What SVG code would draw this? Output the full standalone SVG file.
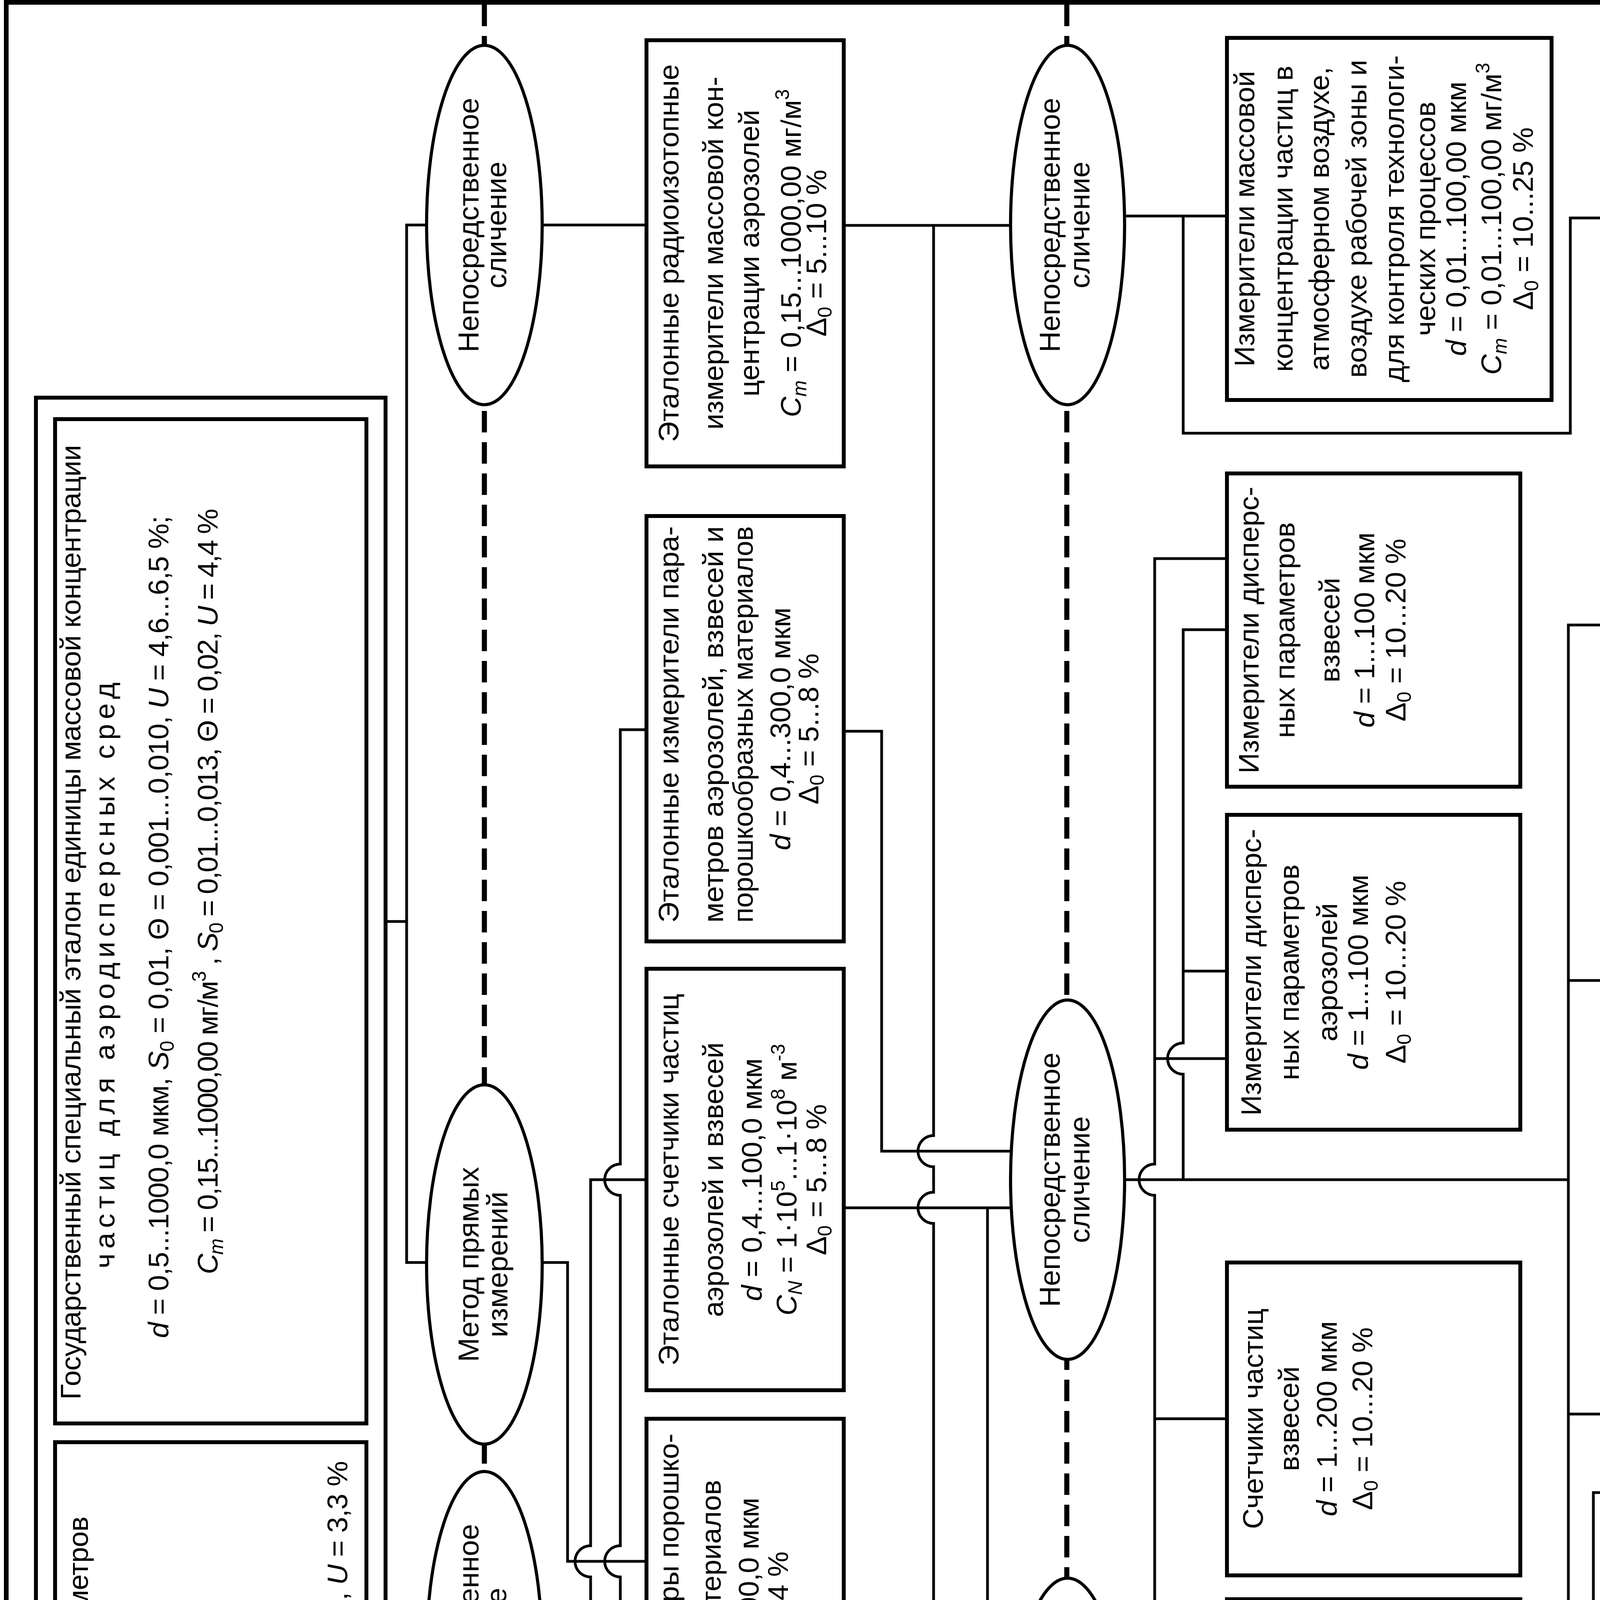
<svg xmlns="http://www.w3.org/2000/svg" width="4973" height="7402" viewBox="0 0 4973 7402">
<style>
text{font-family:"Liberation Sans",Arial,Helvetica,sans-serif;fill:#000}
.t{font-size:73px;text-anchor:middle}
.s{text-anchor:start}
.e{font-size:74px;text-anchor:middle}
.i{font-style:italic}
.b{font-size:50px}
.lab{font-size:80px;text-anchor:middle}
.box{fill:#fff;stroke:#000;stroke-width:10}
.ell{fill:#fff;stroke:#000;stroke-width:8}
.ln{fill:none;stroke:#000;stroke-width:7}
.dash{fill:none;stroke:#000;stroke-width:13;stroke-dasharray:55 25}
.frame{fill:none;stroke:#000;stroke-width:12}
</style>
<rect width="4973" height="7402" fill="#fff"/>
<g id="frame">
<rect class="frame" x="16" y="6" width="4948" height="7386"/>
<line class="frame" x1="16" y1="7059" x2="4964" y2="7059"/>
<line class="dash" x1="1240" y1="12" x2="1240" y2="7386"/>
<line class="dash" x1="2731" y1="12" x2="2731" y2="7386"/>
</g>
<g id="labels">
<text class="lab" transform="translate(630 7245) rotate(180)">Государственные</text>
<text class="lab" transform="translate(634 7150) rotate(180)">эталоны</text>
<text class="lab" transform="translate(1985 7200) rotate(180)">Рабочие эталоны</text>
<text class="lab" transform="translate(3862 7205) rotate(180)">Рабочие средства измерений</text>
</g>
<g id="connectors" class="ln">
<path d="M938 2359H1041M1240 576H1041V3232H1240"/>
<path d="M938 4979H1041M1240 4227H1041V6518H1240"/>
<path d="M1240 576H1655"/>
<path d="M1240 3232H1453V3997H1655"/>
<path d="M1240 4227H1512V4037A40 40 0 0 1 1512 3957V3020H1655"/>
<path d="M1655 1868H1588V2980A40 40 0 0 0 1588 3060V3957A40 40 0 0 0 1588 4037V6518"/>
<path d="M1588 4227H1655M1588 5312H1655"/>
<path d="M1240 6518H1655"/>
<path d="M2160 577H2731"/>
<path d="M2390 577V2907A40 40 0 0 0 2390 2987V3052A40 40 0 0 0 2390 3132V4500"/>
<path d="M2160 1872H2257V2947H2731"/>
<path d="M2160 3092H2731"/>
<path d="M2528 3092V4460A40 40 0 0 0 2528 4540V4666A40 40 0 0 0 2528 4746V6344H2731M2528 4294H2731"/>
<path d="M2160 4230H2262V4500H2731"/>
<path d="M2731 4706H2262V6217H2160M2160 5312H2262"/>
<path d="M2160 6518H2731"/>
<path d="M2731 553H3141M3029 553V1109H4020V558H4148"/>
<path d="M3141 1430H2956V2980A40 40 0 0 0 2956 3060V6318H3141M2956 2710H3141M2956 3632H3141M2956 5070H4148M2956 5639H3141"/>
<path d="M3141 1612H3029V2670A40 40 0 0 0 3029 2750V3020M3029 2486H3141"/>
<path d="M2731 3020H4015"/>
<path d="M4148 1600H4015V4803H4148M4015 2510H4148M4015 3620H4148"/>
<path d="M4148 3821H4079V4763A40 40 0 0 0 4079 4843V5704H4148"/>
<path d="M2731 4500H3141"/>
<path d="M2731 6518H3141"/>
</g>
<g id="state-standards">
<rect class="box" x="92" y="1018" width="895" height="5312"/>
<g id="G1">
<rect class="box" x="141" y="1073" width="797" height="2571"/>
<text class="t" transform="translate(206 2361) rotate(-90)" textLength="2444" lengthAdjust="spacing">Государственный специальный эталон единицы массовой концентрации</text>
<text class="t" transform="translate(293 2497) rotate(-90)" textLength="1500" lengthAdjust="spacing">частиц для аэродисперсных сред</text>
<text class="t" transform="translate(431 2373) rotate(-90)" textLength="2105" lengthAdjust="spacing"><tspan class="i">d</tspan> = 0,5...1000,0 мкм, <tspan class="i">S</tspan><tspan class="b" dy="14">0</tspan><tspan dy="-14"> = 0,01, Θ = 0,001...0,010, </tspan><tspan class="i">U</tspan> = 4,6...6,5 %;</text>
<text class="t" transform="translate(557 2282) rotate(-90)" textLength="1960" lengthAdjust="spacing"><tspan class="i">C</tspan><tspan class="b i" dy="14">m</tspan><tspan dy="-14"> = 0,15...1000,00 мг/м</tspan><tspan class="b" dy="-30">3</tspan><tspan dy="30"> , </tspan><tspan class="i">S</tspan><tspan class="b" dy="14">0</tspan><tspan dy="-14"> = 0,01...0,013, Θ = 0,02, </tspan><tspan class="i">U</tspan> = 4,4 %</text>
</g>
<g id="G2">
<rect class="box" x="141" y="3692" width="797" height="2584"/>
<text class="t s" transform="translate(225 6194) rotate(-90)" textLength="2312" lengthAdjust="spacing">Государственный первичный эталон единиц дисперсных параметров</text>
<text class="t" transform="translate(312 5038) rotate(-90)" textLength="1755" lengthAdjust="spacing">аэрозолей, взвесей и порошкообразных материалов</text>
<text class="t s" transform="translate(431 6235) rotate(-90)" textLength="1935" lengthAdjust="spacing"><tspan class="i">d</tspan> = 0,5...1000,0 мкм, <tspan class="i">S</tspan><tspan class="b" dy="14">0</tspan><tspan dy="-14"> = 0,010...0,001, Θ = 0,01, </tspan><tspan class="i">U</tspan> = 3,3 %;</text>
<text class="t s" transform="translate(531 6247) rotate(-90)" textLength="1826" lengthAdjust="spacing"><tspan class="i">C</tspan><tspan class="b i" dy="14">N</tspan><tspan dy="-14"> = 1·10</tspan><tspan class="b" dy="-30">5</tspan><tspan dy="30"> ...1·10</tspan><tspan class="b" dy="-30">12</tspan><tspan dy="30"> м</tspan><tspan class="b" dy="-30">-3</tspan><tspan dy="30"> , </tspan><tspan class="i">S</tspan><tspan class="b" dy="14">0</tspan><tspan dy="-14"> = 0,005, Θ = 0,016, </tspan><tspan class="i">U</tspan> = 6 %;</text>
<text class="t s" transform="translate(665 6240) rotate(-90)" textLength="1807" lengthAdjust="spacing"><tspan class="i">C</tspan><tspan class="b i" dy="14">W</tspan><tspan dy="-14"> = 0,5...5000,0 мм</tspan><tspan class="b" dy="-30">3</tspan><tspan dy="30">/м</tspan><tspan class="b" dy="-30">3</tspan><tspan dy="30"> , </tspan><tspan class="i">S</tspan><tspan class="b" dy="14">0</tspan><tspan dy="-14"> = 0,005, Θ = 0,012, </tspan><tspan class="i">U</tspan> = 3 %;</text>
<text class="t s" transform="translate(790 6240) rotate(-90)" textLength="1692" lengthAdjust="spacing"><tspan class="i">C</tspan><tspan class="b i" dy="14">m</tspan><tspan dy="-14"> = 0,5...10000,0 мг/м</tspan><tspan class="b" dy="-30">3</tspan><tspan dy="30"> , </tspan><tspan class="i">S</tspan><tspan class="b" dy="14">0</tspan><tspan dy="-14"> = 0,013, Θ = 0,016, </tspan><tspan class="i">U</tspan> = 3,5 %;</text>
<text class="t s" transform="translate(889 6240) rotate(-90)" textLength="2500" lengthAdjust="spacing"><tspan class="i">f</tspan><tspan class="b" dy="14">р.ч</tspan><tspan dy="-14"> в диапазоне от 0,5 до 1000,0 мкм, </tspan><tspan class="i">S</tspan><tspan class="b" dy="14">0</tspan><tspan dy="-14"> = 0,005...0,012, Θ = 0,01, </tspan><tspan class="i">U</tspan> = 3,3 %</text>
</g>
</g>
<g id="E1"><ellipse class="ell" cx="1240" cy="576" rx="148" ry="460"/>
<text class="e" transform="translate(1225 576) rotate(-90)">Непосредственное</text>
<text class="e" transform="translate(1296 576) rotate(-90)">сличение</text></g>
<g id="E2"><ellipse class="ell" cx="1240" cy="3237" rx="148" ry="460"/>
<text class="e" transform="translate(1225 3237) rotate(-90)">Метод прямых</text>
<text class="e" transform="translate(1299 3237) rotate(-90)">измерений</text></g>
<g id="E3"><ellipse class="ell" cx="1240" cy="4227" rx="148" ry="460"/>
<text class="e" transform="translate(1225 4227) rotate(-90)">Непосредственное</text>
<text class="e" transform="translate(1296 4227) rotate(-90)">сличение</text></g>
<g id="E4"><ellipse class="ell" cx="1240" cy="6512" rx="148" ry="460"/>
<text class="e" transform="translate(1225 6512) rotate(-90)">Метод прямых</text>
<text class="e" transform="translate(1299 6512) rotate(-90)">измерений</text></g>
<g id="E5"><ellipse class="ell" cx="2733" cy="576" rx="146" ry="460"/>
<text class="e" transform="translate(2713 576) rotate(-90)">Непосредственное</text>
<text class="e" transform="translate(2789 576) rotate(-90)">сличение</text></g>
<g id="E6"><ellipse class="ell" cx="2733" cy="3020" rx="146" ry="460"/>
<text class="e" transform="translate(2713 3020) rotate(-90)">Непосредственное</text>
<text class="e" transform="translate(2789 3020) rotate(-90)">сличение</text></g>
<g id="E7"><ellipse class="ell" cx="2733" cy="4500" rx="146" ry="460"/>
<text class="e" transform="translate(2713 4500) rotate(-90)">Метод прямых</text>
<text class="e" transform="translate(2794 4500) rotate(-90)">измерений</text></g>
<g id="E8"><ellipse class="ell" cx="2733" cy="6512" rx="146" ry="460"/>
<text class="e" transform="translate(2707 6512) rotate(-90)">Сличение с помощью</text>
<text class="e" transform="translate(2789 6512) rotate(-90)">компаратора</text></g>
<g id="M1"><rect class="box" x="1655" y="103" width="505" height="1091"/>
<text class="t" transform="translate(1737 648) rotate(-90)">Эталонные радиоизотопные</text>
<text class="t" transform="translate(1851 648) rotate(-90)">измерители массовой кон-</text>
<text class="t" transform="translate(1943 648) rotate(-90)">центрации аэрозолей</text>
<text class="t" transform="translate(2050 648) rotate(-90)"><tspan class="i">C</tspan><tspan class="b i" dy="14">m</tspan><tspan dy="-14"> = 0,15...1000,00 мг/м</tspan><tspan class="b" dy="-30">3</tspan></text>
<text class="t" transform="translate(2115 648) rotate(-90)">Δ<tspan class="b" dy="14">0</tspan><tspan dy="-14"> = 5...10 %</tspan></text></g>
<g id="M2"><rect class="box" x="1655" y="1321" width="505" height="1089"/>
<text class="t s" transform="translate(1737 2362) rotate(-90)" textLength="1015" lengthAdjust="spacingAndGlyphs">Эталонные измерители пара-</text>
<text class="t s" transform="translate(1851 2362) rotate(-90)" textLength="1015" lengthAdjust="spacingAndGlyphs">метров аэрозолей, взвесей и</text>
<text class="t s" transform="translate(1927 2362) rotate(-90)" textLength="1015" lengthAdjust="spacingAndGlyphs">порошкообразных материалов</text>
<text class="t" transform="translate(2023 1866) rotate(-90)"><tspan class="i">d</tspan> = 0,4...300,0 мкм</text>
<text class="t" transform="translate(2095 1866) rotate(-90)">Δ<tspan class="b" dy="14">0</tspan><tspan dy="-14"> = 5...8 %</tspan></text></g>
<g id="M3"><rect class="box" x="1655" y="2480" width="505" height="1079"/>
<text class="t" transform="translate(1737 3020) rotate(-90)">Эталонные счетчики частиц</text>
<text class="t" transform="translate(1851 3020) rotate(-90)">аэрозолей и взвесей</text>
<text class="t" transform="translate(1950 3020) rotate(-90)"><tspan class="i">d</tspan> = 0,4...100,0 мкм</text>
<text class="t" transform="translate(2039 3020) rotate(-90)"><tspan class="i">C</tspan><tspan class="b i" dy="14">N</tspan><tspan dy="-14"> = 1·10</tspan><tspan class="b" dy="-30">5</tspan><tspan dy="30">...1·10</tspan><tspan class="b" dy="-30">8</tspan><tspan dy="30"> м</tspan><tspan class="b" dy="-30">-3</tspan></text>
<text class="t" transform="translate(2115 3020) rotate(-90)">Δ<tspan class="b" dy="14">0</tspan><tspan dy="-14"> = 5...8 %</tspan></text></g>
<g id="M4"><rect class="box" x="1655" y="3632" width="505" height="1074"/>
<text class="t" transform="translate(1737 4169) rotate(-90)">Эталонные наборы порошко-</text>
<text class="t" transform="translate(1845 4165) rotate(-90)">образных материалов</text>
<text class="t" transform="translate(1942 4165) rotate(-90)"><tspan class="i">d</tspan> = 0,4...1000,0 мкм</text>
<text class="t" transform="translate(2017 4165) rotate(-90)">Δ<tspan class="b" dy="14">0</tspan><tspan dy="-14"> = 2...4 %</tspan></text></g>
<g id="M5"><rect class="box" x="1655" y="4773" width="505" height="1078"/>
<text class="t" transform="translate(1737 5308) rotate(-90)">Эталонные взвеси частиц</text>
<text class="t" transform="translate(1835 5308) rotate(-90)">в жидкости</text>
<text class="t" transform="translate(1918 5308) rotate(-90)"><tspan class="i">d</tspan> = 0,4...150,0 мкм</text>
<text class="t" transform="translate(2001 5308) rotate(-90)">Δ<tspan class="b" dy="14">0</tspan><tspan dy="-14"> = 5...8 %</tspan></text></g>
<g id="M6"><rect class="box" x="1655" y="5918" width="505" height="1067"/>
<text class="t" transform="translate(1737 6450) rotate(-90)">Эталонные генераторы</text>
<text class="t" transform="translate(1835 6450) rotate(-90)">частиц аэрозолей</text>
<text class="t" transform="translate(1934 6450) rotate(-90)"><tspan class="i">d</tspan> = 0,4...60,0 мкм</text>
<text class="t" transform="translate(2034 6450) rotate(-90)"><tspan class="i">C</tspan><tspan class="b i" dy="14">N</tspan><tspan dy="-14"> = 1·10</tspan><tspan class="b" dy="-30">5</tspan><tspan dy="30">...1·10</tspan><tspan class="b" dy="-30">7</tspan><tspan dy="30"> м</tspan><tspan class="b" dy="-30">-3</tspan></text>
<text class="t" transform="translate(2115 6450) rotate(-90)">Δ<tspan class="b" dy="14">0</tspan><tspan dy="-14"> = 5...8 %</tspan></text></g>
<g id="R1"><rect class="box" x="3141" y="97" width="831" height="927"/>
<text class="t" transform="translate(3211 560) rotate(-90)">Измерители массовой</text>
<text class="t" transform="translate(3309 560) rotate(-90)">концентрации частиц в</text>
<text class="t" transform="translate(3402 560) rotate(-90)">атмосферном воздухе,</text>
<text class="t" transform="translate(3498 560) rotate(-90)">воздухе рабочей зоны и</text>
<text class="t" transform="translate(3594 560) rotate(-90)">для контроля технологи-</text>
<text class="t" transform="translate(3674 560) rotate(-90)">ческих процессов</text>
<text class="t" transform="translate(3753 560) rotate(-90)"><tspan class="i">d</tspan> = 0,01...100,00 мкм</text>
<text class="t" transform="translate(3843 560) rotate(-90)"><tspan class="i">C</tspan><tspan class="b i" dy="14">m</tspan><tspan dy="-14"> = 0,01...100,00 мг/м</tspan><tspan class="b" dy="-30">3</tspan></text>
<text class="t" transform="translate(3924 560) rotate(-90)">Δ<tspan class="b" dy="14">0</tspan><tspan dy="-14"> = 10...25 %</tspan></text></g>
<g id="R2"><rect class="box" x="4148" y="97" width="747" height="927"/>
<text class="t" transform="translate(4240 565) rotate(-90)">Измерители массовой</text>
<text class="t" transform="translate(4330 565) rotate(-90)">концентрации частиц в</text>
<text class="t" transform="translate(4410 565) rotate(-90)">промышленных и</text>
<text class="t" transform="translate(4496 565) rotate(-90)">транспортных выбросах</text>
<text class="t" transform="translate(4601 565) rotate(-90)"><tspan class="i">d</tspan> = 0,1...100,0 мкм</text>
<text class="t" transform="translate(4692 565) rotate(-90)"><tspan class="i">C</tspan><tspan class="b i" dy="14">m</tspan><tspan dy="-14"> = 1,0...1000,0 мг/м</tspan><tspan class="b" dy="-30">3</tspan></text>
<text class="t" transform="translate(4782 565) rotate(-90)">Δ<tspan class="b" dy="14">0</tspan><tspan dy="-14"> = 10...25 %</tspan></text></g>
<g id="R3"><rect class="box" x="3141" y="1212" width="751" height="802"/>
<text class="t" transform="translate(3222 1613) rotate(-90)">Измерители дисперс-</text>
<text class="t" transform="translate(3314 1613) rotate(-90)">ных параметров</text>
<text class="t" transform="translate(3429 1613) rotate(-90)">взвесей</text>
<text class="t" transform="translate(3518 1613) rotate(-90)"><tspan class="i">d</tspan> = 1...100 мкм</text>
<text class="t" transform="translate(3598 1613) rotate(-90)">Δ<tspan class="b" dy="14">0</tspan><tspan dy="-14"> = 10...20 %</tspan></text></g>
<g id="R4"><rect class="box" x="3141" y="2086" width="751" height="806"/>
<text class="t" transform="translate(3228 2489) rotate(-90)">Измерители дисперс-</text>
<text class="t" transform="translate(3325 2489) rotate(-90)">ных параметров</text>
<text class="t" transform="translate(3423 2489) rotate(-90)">аэрозолей</text>
<text class="t" transform="translate(3502 2489) rotate(-90)"><tspan class="i">d</tspan> = 1...100 мкм</text>
<text class="t" transform="translate(3598 2489) rotate(-90)">Δ<tspan class="b" dy="14">0</tspan><tspan dy="-14"> = 10...20 %</tspan></text></g>
<g id="R5"><rect class="box" x="3141" y="3232" width="751" height="801"/>
<text class="t" transform="translate(3233 3632) rotate(-90)">Счетчики частиц</text>
<text class="t" transform="translate(3325 3632) rotate(-90)">взвесей</text>
<text class="t" transform="translate(3422 3632) rotate(-90)"><tspan class="i">d</tspan> = 1...200 мкм</text>
<text class="t" transform="translate(3513 3632) rotate(-90)">Δ<tspan class="b" dy="14">0</tspan><tspan dy="-14"> = 10...20 %</tspan></text></g>
<g id="R6"><rect class="box" x="3141" y="4094" width="751" height="812"/>
<text class="t" transform="translate(3233 4500) rotate(-90)">Счетчики частиц</text>
<text class="t" transform="translate(3325 4500) rotate(-90)">аэрозолей</text>
<text class="t" transform="translate(3433 4500) rotate(-90)"><tspan class="i">d</tspan> = 0,3...30,0 мкм</text>
<text class="t" transform="translate(3523 4500) rotate(-90)">Δ<tspan class="b" dy="14">0</tspan><tspan dy="-14"> = 10...40 %</tspan></text></g>
<g id="R7"><rect class="box" x="3141" y="5233" width="751" height="807"/>
<text class="t" transform="translate(3233 5636) rotate(-90)">Генераторы частиц</text>
<text class="t" transform="translate(3331 5636) rotate(-90)">взвесей</text>
<text class="t" transform="translate(3433 5636) rotate(-90)"><tspan class="i">d</tspan> = 1...100 мкм</text>
<text class="t" transform="translate(3523 5636) rotate(-90)">Δ<tspan class="b" dy="14">0</tspan><tspan dy="-14"> = 10...20 %</tspan></text></g>
<g id="R8"><rect class="box" x="3141" y="6103" width="751" height="799"/>
<text class="t" transform="translate(3233 6502) rotate(-90)">Генераторы частиц</text>
<text class="t" transform="translate(3325 6502) rotate(-90)">аэрозолей</text>
<text class="t" transform="translate(3433 6502) rotate(-90)"><tspan class="i">d</tspan> = 0,4...60,0 мкм</text>
<text class="t" transform="translate(3523 6502) rotate(-90)">Δ<tspan class="b" dy="14">0</tspan><tspan dy="-14"> = 7...15 %</tspan></text></g>
<g id="R9"><rect class="box" x="4148" y="1170" width="747" height="850"/>
<text class="t" transform="translate(4234 1595) rotate(-90)">Измерители параметров</text>
<text class="t" transform="translate(4325 1595) rotate(-90)">мутности в диапазоне</text>
<text class="t" transform="translate(4410 1595) rotate(-90)">от 0,1 до 10,0</text>
<text class="t" transform="translate(4500 1595) rotate(-90)"><tspan class="i">d</tspan> = 0,5...100,0 мкм</text>
<text class="t" transform="translate(4590 1595) rotate(-90)">Δ<tspan class="b" dy="14">0</tspan><tspan dy="-14"> = 20...30 %</tspan></text></g>
<g id="R10"><rect class="box" x="4148" y="2086" width="747" height="854"/>
<text class="t" transform="translate(4234 2513) rotate(-90)">Измерители параметров</text>
<text class="t" transform="translate(4325 2513) rotate(-90)">дымности в диапазоне</text>
<text class="t" transform="translate(4410 2513) rotate(-90)">от 0 до 100 %</text>
<text class="t" transform="translate(4505 2513) rotate(-90)"><tspan class="i">d</tspan> = 0,5...100,0 мкм</text>
<text class="t" transform="translate(4596 2513) rotate(-90)">Δ<tspan class="b" dy="14">0</tspan><tspan dy="-14"> = 10...20 %</tspan></text></g>
<g id="R11"><rect class="box" x="4148" y="3190" width="747" height="855"/>
<text class="t" transform="translate(4234 3617) rotate(-90)">Измерители дисперсных</text>
<text class="t" transform="translate(4325 3617) rotate(-90)">параметров порошков</text>
<text class="t" transform="translate(4425 3617) rotate(-90)"><tspan class="i">d</tspan> = 1...1000 мкм</text>
<text class="t" transform="translate(4510 3617) rotate(-90)">Δ<tspan class="b" dy="14">0</tspan><tspan dy="-14"> = 10...20 %</tspan></text></g>
<g id="R12"><rect class="box" x="4148" y="4379" width="747" height="854"/>
<text class="t" transform="translate(4234 4806) rotate(-90)">Универсальные измери-</text>
<text class="t" transform="translate(4325 4806) rotate(-90)">тели дисперсных пара-</text>
<text class="t" transform="translate(4421 4806) rotate(-90)">метров аэрозолей,</text>
<text class="t" transform="translate(4501 4806) rotate(-90)">взвесей и порошков</text>
<text class="t" transform="translate(4596 4806) rotate(-90)"><tspan class="i">d</tspan> = 1...100 мкм</text>
<text class="t" transform="translate(4686 4806) rotate(-90)">Δ<tspan class="b" dy="14">0</tspan><tspan dy="-14"> = 10...20 %</tspan></text></g>
<g id="R13"><rect class="box" x="4148" y="5306" width="747" height="809"/>
<text class="t" transform="translate(4234 5710) rotate(-90)">Аспираторы</text>
<text class="t" transform="translate(4330 5710) rotate(-90)">по ГОСТ Р 51945</text>
<text class="t" transform="translate(4425 5710) rotate(-90)"><tspan class="i">d</tspan> = 1...1000 мкм</text>
<text class="t" transform="translate(4510 5710) rotate(-90)">Δ<tspan class="b" dy="14">0</tspan><tspan dy="-14"> = 10...20 %</tspan></text></g>
</svg>
